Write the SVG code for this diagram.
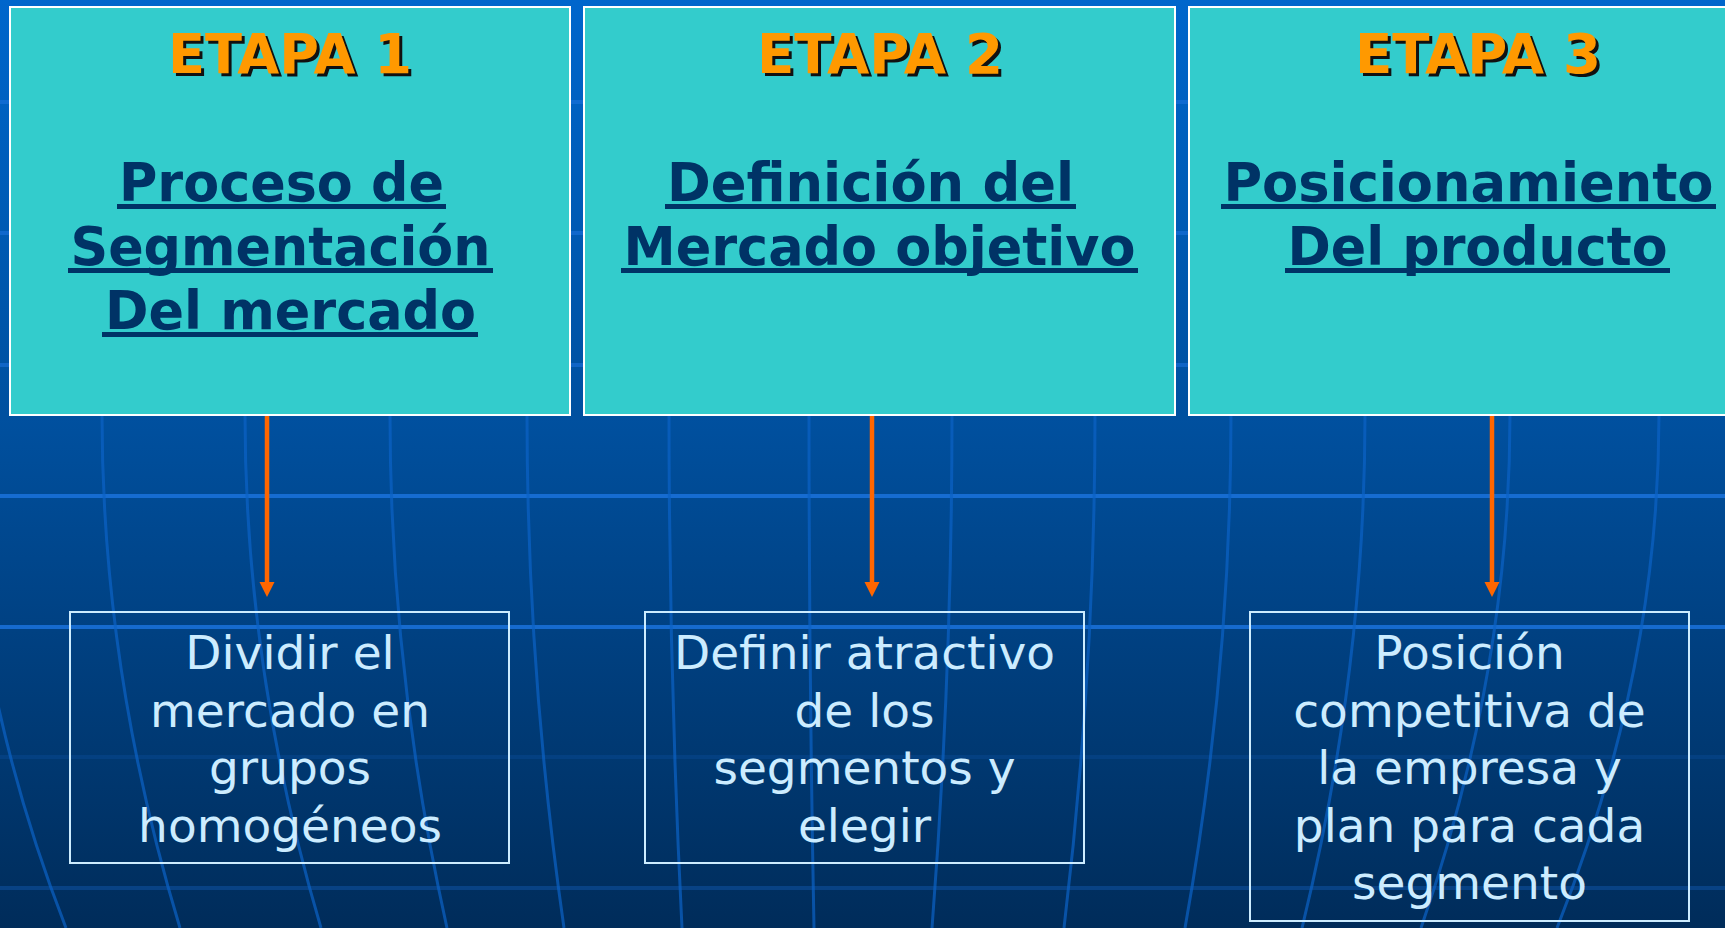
<svg xmlns="http://www.w3.org/2000/svg" width="1725" height="928" viewBox="0 0 1725 928">
<defs>
<linearGradient id="bg" x1="0" y1="0" x2="0" y2="1">
<stop offset="0" stop-color="#0066CC"/>
<stop offset="0.45" stop-color="#00509F"/>
<stop offset="1" stop-color="#002C5A"/>
</linearGradient>
<style>
.hline{stroke:#1A72DC;stroke-width:4;fill:none}
.mer{stroke:#0B62C6;stroke-width:3;fill:none;opacity:0.7}
.top{fill:#33CCCC;stroke:#FFFFFF;stroke-width:2}
.bot{fill:none;stroke:#CCECFF;stroke-width:2}
.etapa{font-family:"DejaVu Sans Condensed","DejaVu Sans",sans-serif;font-weight:bold;font-size:55px;text-anchor:middle}
.etf{fill:#FF9900}
.ets{fill:#111111}
.ttl{font-family:"DejaVu Sans Condensed","DejaVu Sans",sans-serif;font-weight:bold;font-size:54px;fill:#003366;text-anchor:middle}
.ul{fill:#003366}
.body{font-family:"DejaVu Sans",sans-serif;font-size:47px;fill:#CCECFF;text-anchor:middle}
.conn{stroke:#FF6600;stroke-width:4.5;fill:none}
.head{fill:#FF6600}
</style>
</defs>
<g id="background">
<rect x="0" y="0" width="1725" height="928" fill="url(#bg)"/>
<line class="hline" x1="0" y1="102" x2="1725" y2="102" opacity="0.6"/>
<line class="hline" x1="0" y1="233" x2="1725" y2="233" opacity="0.6"/>
<line class="hline" x1="0" y1="365" x2="1725" y2="365" opacity="0.6"/>
<line class="hline" x1="0" y1="496" x2="1725" y2="496" opacity="0.85"/>
<line class="hline" x1="0" y1="627" x2="1725" y2="627" opacity="0.85"/>
<line class="hline" x1="0" y1="757" x2="1725" y2="757" opacity="0.15"/>
<line class="hline" x1="0" y1="888" x2="1725" y2="888" opacity="0.3"/>
<path class="mer" d="M-34 415 Q-34 671 66 928"/>
<path class="mer" d="M102 415 Q102 671 180 928"/>
<path class="mer" d="M245 415 Q245 671 321 928"/>
<path class="mer" d="M390 415 Q390 671 447 928"/>
<path class="mer" d="M527 415 Q527 671 564 928"/>
<path class="mer" d="M669 415 Q669 671 682 928"/>
<path class="mer" d="M809 415 Q809 671 814 928"/>
<path class="mer" d="M952 415 Q952 671 932 928"/>
<path class="mer" d="M1095 415 Q1095 671 1064 928"/>
<path class="mer" d="M1231 415 Q1231 671 1185 928"/>
<path class="mer" d="M1365 415 Q1365 671 1302 928"/>
<path class="mer" d="M1510 415 Q1510 671 1421 928"/>
<path class="mer" d="M1659 415 Q1659 671 1557 928"/>
</g>
<g id="connectors">
<line class="conn" x1="267" y1="415" x2="267" y2="584"/>
<polygon class="head" points="259.5,582 274.5,582 267,597"/>
<line class="conn" x1="872" y1="415" x2="872" y2="584"/>
<polygon class="head" points="864.5,582 879.5,582 872,597"/>
<line class="conn" x1="1492" y1="415" x2="1492" y2="584"/>
<polygon class="head" points="1484.5,582 1499.5,582 1492,597"/>
</g>
<g id="etapa1">
<rect class="top" x="10" y="7" width="560" height="408"/>
<text class="etapa ets" x="293" y="76" textLength="244" lengthAdjust="spacingAndGlyphs">ETAPA 1</text>
<text class="etapa etf" x="290" y="73" textLength="244" lengthAdjust="spacingAndGlyphs">ETAPA 1</text>
<text class="ttl" x="281.5" y="201" textLength="325" lengthAdjust="spacingAndGlyphs">Proceso de</text>
<rect class="ul" x="117" y="204" width="329" height="5"/>
<text class="ttl" x="280.5" y="265" textLength="420" lengthAdjust="spacingAndGlyphs">Segmentación</text>
<rect class="ul" x="68" y="268" width="425" height="5"/>
<text class="ttl" x="290.5" y="329" textLength="371" lengthAdjust="spacingAndGlyphs">Del mercado</text>
<rect class="ul" x="102" y="332" width="376" height="5"/>
</g>
<g id="etapa2">
<rect class="top" x="584" y="7" width="591" height="408"/>
<text class="etapa ets" x="883" y="76" textLength="246" lengthAdjust="spacingAndGlyphs">ETAPA 2</text>
<text class="etapa etf" x="880" y="73" textLength="246" lengthAdjust="spacingAndGlyphs">ETAPA 2</text>
<text class="ttl" x="870.5" y="201" textLength="407" lengthAdjust="spacingAndGlyphs">Definición del</text>
<rect class="ul" x="665" y="204" width="411" height="5"/>
<text class="ttl" x="879.5" y="265" textLength="512" lengthAdjust="spacingAndGlyphs">Mercado objetivo</text>
<rect class="ul" x="621" y="268" width="517" height="5"/>
</g>
<g id="etapa3">
<rect class="top" x="1189" y="7" width="600" height="408"/>
<text class="etapa ets" x="1481" y="76" textLength="246" lengthAdjust="spacingAndGlyphs">ETAPA 3</text>
<text class="etapa etf" x="1478" y="73" textLength="246" lengthAdjust="spacingAndGlyphs">ETAPA 3</text>
<text class="ttl" x="1468.5" y="201" textLength="490" lengthAdjust="spacingAndGlyphs">Posicionamiento</text>
<rect class="ul" x="1221" y="204" width="495" height="5"/>
<text class="ttl" x="1477.5" y="265" textLength="380" lengthAdjust="spacingAndGlyphs">Del producto</text>
<rect class="ul" x="1285" y="268" width="385" height="5"/>
</g>
<g id="paso1">
<rect class="bot" x="70" y="612" width="439" height="251"/>
<text class="body" x="290" y="669">Dividir el</text>
<text class="body" x="290" y="726.5">mercado en</text>
<text class="body" x="290" y="784">grupos</text>
<text class="body" x="290" y="841.5">homogéneos</text>
</g>
<g id="paso2">
<rect class="bot" x="645" y="612" width="439" height="251"/>
<text class="body" x="864.5" y="669">Definir atractivo</text>
<text class="body" x="864.5" y="726.5">de los</text>
<text class="body" x="864.5" y="784">segmentos y</text>
<text class="body" x="864.5" y="841.5">elegir</text>
</g>
<g id="paso3">
<rect class="bot" x="1250" y="612" width="439" height="309"/>
<text class="body" x="1469.5" y="669">Posición</text>
<text class="body" x="1469.5" y="726.5">competitiva de</text>
<text class="body" x="1469.5" y="784">la empresa y</text>
<text class="body" x="1469.5" y="841.5">plan para cada</text>
<text class="body" x="1469.5" y="899">segmento</text>
</g>
</svg>
